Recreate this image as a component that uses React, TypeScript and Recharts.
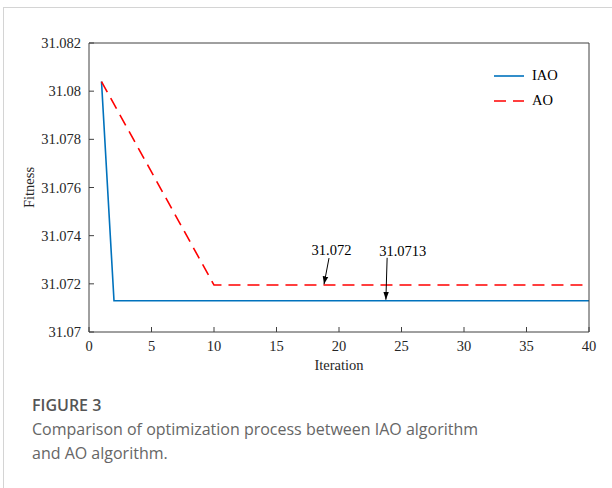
import {
  Legend,
  Line,
  LineChart,
  ReferenceDot,
  ReferenceLine,
  XAxis,
  YAxis,
} from 'recharts';

// IAO: drops straight to its best value after the first iteration
const iaoIter = [1, 2, 40];
const iaoFitness = [31.0804, 31.0713, 31.0713];

// AO: linear descent to iteration 10, then flat
const aoIter = [1, 10, 40];
const aoFitness = [31.0804, 31.07195, 31.07195];

const xTicks = [0, 5, 10, 15, 20, 25, 30, 35, 40];
const yTicks = [31.07, 31.072, 31.074, 31.076, 31.078, 31.08, 31.082];

// arrow annotations: label, label position, arrow tail, arrow head
const notes = [
  { text: '31.072', lx: 19.4, ly: 31.07341, x1: 19.2, y1: 31.07307, x2: 18.8, y2: 31.07198 },
  { text: '31.0713', lx: 25.1, ly: 31.07337, x1: 23.85, y1: 31.07308, x2: 23.75, y2: 31.07134 },
];

const BLUE = '#0072BD';
const RED = '#FF0000';
const AXIS = '#404040';
const SERIF = '"Liberation Serif", "Times New Roman", serif';
const DASH = '12 7';
const FS = 14.5;

const iaoData = iaoIter.map((x, i) => ({ x, y: iaoFitness[i] }));
const aoData = aoIter.map((x, i) => ({ x, y: aoFitness[i] }));

const series = [
  { name: 'IAO', color: BLUE, dash: undefined as string | undefined },
  { name: 'AO', color: RED, dash: DASH },
];

function fmtY(v: number) {
  return String(parseFloat(v.toFixed(3)));
}

// tick labels drawn as plain svg text so the serif face is used
function XTick({ x, y, payload }: any) {
  return (
    <text x={x} y={y + 12} textAnchor="middle" fill="#262626" fontSize={FS} fontFamily={SERIF}>
      {payload.value}
    </text>
  );
}

function YTick({ x, y, payload }: any) {
  return (
    <text x={x - 1} y={y + 5} textAnchor="end" fill="#262626" fontSize={FS} fontFamily={SERIF}>
      {fmtY(payload.value)}
    </text>
  );
}

function LegendBox() {
  return (
    <div style={{ fontFamily: SERIF, fontSize: FS, color: '#000' }}>
      {series.map((s) => (
        <div key={s.name} style={{ display: 'flex', alignItems: 'center', height: 25 }}>
          <svg width={32} height={6} style={{ marginRight: 7 }}>
            <line x1={1} y1={3} x2={31} y2={3} stroke={s.color} strokeWidth={1.6} strokeDasharray={s.dash} />
          </svg>
          <span>{s.name}</span>
        </div>
      ))}
    </div>
  );
}

export default function App() {
  return (
    <div style={{ position: 'absolute', left: 0, top: 0, width: 612, height: 488, background: '#fff' }}>
      <div
        style={{
          position: 'absolute',
          left: 3,
          top: 7,
          right: 0,
          bottom: 0,
          borderLeft: '1px solid #d4d4d4',
          borderTop: '1px solid #d4d4d4',
        }}
      />
      <div style={{ position: 'absolute', left: 0, top: 0 }}>
        <LineChart
          width={612}
          height={380}
          margin={{ top: 42, right: 22, left: 0, bottom: 8 }}
          style={{ fontFamily: SERIF }}
        >
          <defs>
            <marker id="arrowHead" viewBox="0 0 10 10" refX="10" refY="5" markerWidth="8" markerHeight="8" orient="auto">
              <path d="M0,1.5 L10,5 L0,8.5 z" fill="#000" />
            </marker>
          </defs>
          <XAxis
            xAxisId="bottom"
            dataKey="x"
            type="number"
            domain={[0, 40]}
            ticks={xTicks}
            allowDataOverflow
            height={40}
            stroke={AXIS}
            tickSize={-5}
            tickMargin={12}
            tick={<XTick />}
            label={{ value: 'Iteration', position: 'insideBottom', offset: 2, fill: '#262626', fontSize: FS, fontFamily: SERIF }}
          />
          <XAxis
            xAxisId="top"
            orientation="top"
            type="number"
            domain={[0, 40]}
            ticks={xTicks}
            height={1}
            stroke={AXIS}
            tickSize={-5}
            tick={false}
          />
          <YAxis
            yAxisId="left"
            type="number"
            domain={[31.07, 31.082]}
            ticks={yTicks}
            allowDataOverflow
            width={89}
            stroke={AXIS}
            tickSize={-5}
            tickMargin={12}
            tick={<YTick />}
            label={{
              value: 'Fitness',
              angle: -90,
              position: 'insideLeft',
              offset: 29,
              fill: '#262626',
              fontSize: FS,
              fontFamily: SERIF,
              style: { textAnchor: 'middle' },
            }}
          />
          <YAxis
            yAxisId="right"
            orientation="right"
            type="number"
            domain={[31.07, 31.082]}
            ticks={yTicks}
            width={1}
            stroke={AXIS}
            tickSize={-5}
            tick={false}
          />
          <Line
            xAxisId="bottom"
            yAxisId="left"
            data={iaoData}
            dataKey="y"
            name="IAO"
            stroke={BLUE}
            strokeWidth={1.6}
            dot={false}
            isAnimationActive={false}
          />
          <Line
            xAxisId="bottom"
            yAxisId="left"
            data={aoData}
            dataKey="y"
            name="AO"
            stroke={RED}
            strokeWidth={1.6}
            strokeDasharray={DASH}
            dot={false}
            isAnimationActive={false}
          />
          {notes.map((n) => (
            <ReferenceLine
              key={n.text + '-arrow'}
              xAxisId="bottom"
              yAxisId="left"
              segment={[
                { x: n.x1, y: n.y1 },
                { x: n.x2, y: n.y2 },
              ]}
              shape={(p: any) => (
                <line x1={p.x1} y1={p.y1} x2={p.x2} y2={p.y2} stroke="#000" strokeWidth={1} markerEnd="url(#arrowHead)" />
              )}
            />
          ))}
          {notes.map((n) => (
            <ReferenceDot
              key={n.text}
              xAxisId="bottom"
              yAxisId="left"
              x={n.lx}
              y={n.ly}
              r={0}
              fill="none"
              stroke="none"
              label={{ value: n.text, position: 'center', fill: '#000', fontSize: FS, fontFamily: SERIF }}
            />
          ))}
          <Legend
            layout="vertical"
            align="center"
            verticalAlign="middle"
            wrapperStyle={{ top: 63, left: 493, width: 90 }}
            content={() => <LegendBox />}
          />
        </LineChart>
      </div>
      <div
        style={{
          position: 'absolute',
          left: 32,
          top: 393,
          width: 560,
          fontFamily: '"Open Sans", sans-serif',
          fontSize: 16,
          lineHeight: '24px',
          color: '#666',
        }}
      >
        <div style={{ fontWeight: 600, color: '#555', fontSize: 16 }}>FIGURE 3</div>
        <div>Comparison of optimization process between IAO algorithm</div>
        <div>and AO algorithm.</div>
      </div>
    </div>
  );
}
